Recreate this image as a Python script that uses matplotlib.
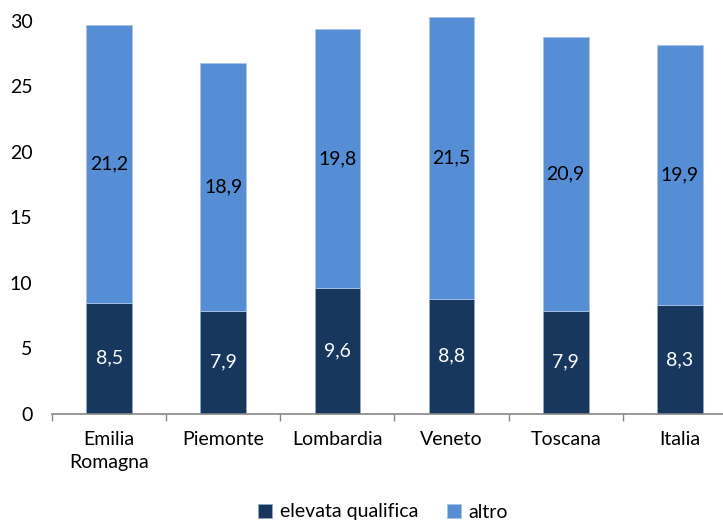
import matplotlib
matplotlib.use("Agg")
import matplotlib.pyplot as plt
import numpy as np

categories = ["Emilia\nRomagna", "Piemonte", "Lombardia", "Veneto", "Toscana", "Italia"]
elevata = [8.5, 7.9, 9.6, 8.8, 7.9, 8.3]
altro = [21.2, 18.9, 19.8, 21.5, 20.9, 19.9]
series_names = ["elevata qualifica", "altro"]
yticks = [0, 5, 10, 15, 20, 25, 30]

plt.rcParams['font.family'] = ['Lato', 'DejaVu Sans']

fig = plt.figure(figsize=(7.23, 5.21), dpi=100)
W, H = 723, 521
ax = fig.add_axes([52 / W, (H - 414) / H, 685 / W, 414 / H])

dark = "#17375E"
light = "#558ED5"
x = np.arange(len(categories))
bw = 0.4
b1 = ax.bar(x, elevata, bw, color=dark, edgecolor="#8FA7C4", linewidth=0.6, label=series_names[0])
b2 = ax.bar(x, altro, bw, bottom=elevata, color=light, edgecolor="#A9C4E8", linewidth=0.6, label=series_names[1])

fs = 14
for xi, e, a in zip(x, elevata, altro):
    ax.text(xi, e / 2, f"{e:.1f}".replace(".", ","), ha="center", va="center",
            color="white", fontsize=fs)
    ax.text(xi, e + a / 2, f"{a:.1f}".replace(".", ","), ha="center", va="center",
            color="black", fontsize=fs)

ax.set_xlim(-0.5, len(categories) - 0.5)
ax.set_ylim(0, 31.6)
ax.set_yticks(yticks)
ax.set_yticklabels([str(v) for v in yticks], fontsize=fs)
ax.tick_params(axis="y", length=0, pad=14)
ax.set_xticks(x)
ax.set_xticklabels(categories, fontsize=fs, linespacing=1.45)
ax.tick_params(axis="x", which="major", length=0, pad=12)
ax.set_xticks(np.arange(-0.5, len(categories)), minor=True)
ax.tick_params(axis="x", which="minor", length=5, color="#868686", width=1)

for s in ["top", "right", "left"]:
    ax.spines[s].set_visible(False)
ax.spines["bottom"].set_color("#868686")
ax.spines["bottom"].set_linewidth(1.2)

fig.legend(handles=[b1, b2], labels=series_names, loc="center", bbox_to_anchor=(0.53, 1 - 512 / H),
           ncol=2, frameon=False, fontsize=fs, handlelength=0.7, handleheight=0.7,
           handletextpad=0.4, columnspacing=1.5)

fig.savefig("out.png", dpi=100)
